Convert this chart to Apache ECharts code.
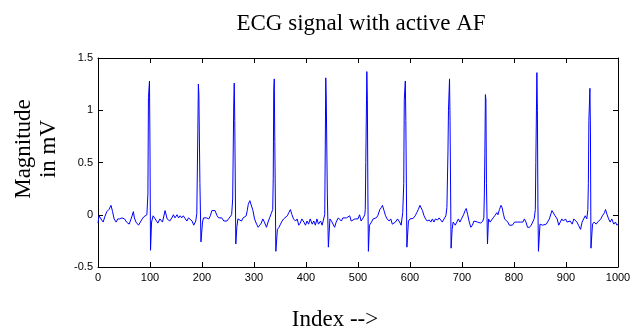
<!DOCTYPE html>
<html>
<head>
<meta charset="utf-8">
<title>ECG signal with active AF</title>
<script src="https://cdn.jsdelivr.net/npm/echarts@6/dist/echarts.min.js"></script>
<style>
  html, body { margin: 0; padding: 0; background: #fff; }
  #main { width: 640px; height: 333px; }
</style>
</head>
<body>
<div id="main"></div>
<script>
// sample index and magnitude (mV)
var ecgIndex = [
  0, 2, 5, 7, 10, 13, 17, 21, 25, 28, 31, 35, 38, 42, 46, 51, 55, 60, 65, 68,
  70, 73, 78, 81, 85, 88, 91, 94, 96, 97, 99, 100, 101, 103, 106, 110, 115, 119, 124, 129,
  133, 136, 138, 142, 145, 148, 152, 155, 158, 161, 164, 168, 171, 174, 177, 181, 184, 188, 190, 192,
  193, 194, 196, 198, 201, 203, 206, 209, 213, 216, 219, 222, 225, 229, 232, 235, 238, 242, 245, 248,
  251, 254, 257, 259, 261, 262, 263, 265, 267, 269, 272, 276, 279, 282, 285, 287, 289, 292, 295, 298,
  301, 305, 308, 311, 314, 317, 320, 324, 327, 330, 333, 336, 337, 338, 339, 340, 342, 345, 348, 351,
  354, 357, 360, 364, 367, 370, 373, 376, 380, 383, 386, 389, 392, 396, 399, 402, 405, 408, 412, 415,
  418, 421, 424, 428, 431, 434, 436, 437, 438, 439, 441, 443, 446, 449, 452, 455, 458, 462, 465, 468,
  471, 474, 478, 481, 484, 487, 490, 494, 497, 500, 503, 506, 510, 513, 514, 515, 517, 518, 519, 520,
  522, 526, 529, 532, 535, 538, 542, 545, 547, 550, 553, 556, 560, 563, 566, 569, 572, 576, 580, 583,
  586, 588, 589, 591, 592, 594, 597, 600, 603, 606, 610, 613, 616, 619, 621, 624, 627, 630, 633, 637,
  640, 643, 646, 649, 653, 656, 659, 662, 665, 669, 671, 673, 674, 676, 677, 679, 681, 683, 687, 690,
  693, 696, 699, 703, 706, 708, 711, 714, 717, 720, 723, 726, 730, 733, 736, 740, 742, 743, 744, 745,
  746, 747, 749, 751, 754, 757, 760, 763, 767, 769, 772, 775, 777, 780, 782, 785, 788, 791, 794, 797,
  801, 804, 807, 810, 813, 817, 820, 823, 826, 830, 833, 836, 839, 841, 842, 844, 845, 846, 847, 850,
  853, 855, 858, 862, 865, 868, 871, 873, 876, 879, 883, 886, 889, 892, 895, 899, 902, 905, 908, 912,
  915, 918, 921, 924, 928, 931, 934, 937, 940, 942, 943, 944, 946, 947, 948, 951, 954, 958, 961, 964,
  967, 970, 974, 976, 979, 982, 985, 988, 992, 995, 998, 1000
];
var ecgMv = [
  -0.08, -0.01, 0.0, -0.05, -0.07, -0.02, 0.03, 0.05, 0.09, 0.03, -0.04, -0.07, -0.04, -0.04, -0.03, -0.04, -0.07, -0.09, -0.02, 0.03,
  -0.03, -0.07, -0.1, -0.1, -0.04, -0.02, -0.03, 0.0, 0.2, 1.12, 1.28, 0.6, -0.34, -0.07, -0.01, -0.04, -0.08, -0.04, -0.07, 0.04,
  -0.04, -0.03, -0.06, -0.03, 0.0, -0.03, 0.0, -0.03, -0.01, -0.03, -0.01, -0.04, -0.06, -0.03, -0.04, -0.06, -0.1, -0.06, 0.01, 0.8,
  1.25, 1.15, 0.3, -0.26, -0.07, -0.03, -0.04, -0.03, -0.04, -0.01, 0.04, 0.05, 0.04, -0.01, -0.03, -0.04, -0.03, -0.06, -0.07, -0.06,
  -0.04, -0.03, 0.0, 0.15, 1.05, 1.26, 0.9, -0.28, -0.12, -0.04, -0.04, -0.06, -0.03, -0.04, -0.01, 0.04, 0.1, 0.135, 0.12, 0.04,
  -0.04, -0.09, -0.12, -0.1, -0.08, -0.04, -0.07, -0.12, -0.07, -0.03, 0.01, 0.05, 0.35, 1.2, 1.3, 0.7, -0.35, -0.14, -0.12, -0.09,
  -0.06, -0.04, -0.03, -0.01, 0.02, 0.05, 0.0, -0.04, -0.06, -0.04, -0.1, -0.08, -0.04, -0.07, -0.1, -0.06, -0.09, -0.04, -0.09, -0.06,
  -0.1, -0.04, -0.09, -0.06, -0.1, -0.04, 0.0, 0.6, 1.31, 1.1, 0.2, -0.31, -0.04, -0.06, -0.07, -0.12, -0.07, -0.03, -0.04, -0.06,
  -0.03, -0.04, -0.03, -0.04, -0.01, -0.06, -0.07, -0.04, -0.03, -0.04, 0.0, -0.06, -0.03, 0.0, 0.05, 0.5, 1.37, 1.1, 0.2, -0.35,
  -0.1, -0.07, -0.04, -0.04, -0.03, -0.01, 0.05, 0.07, 0.09, 0.04, -0.01, -0.04, -0.06, -0.04, -0.09, -0.1, -0.07, -0.04, -0.07, -0.1,
  0.02, 0.3, 1.1, 1.28, 0.9, -0.31, -0.06, -0.04, -0.05, -0.035, -0.01, 0.02, 0.05, 0.09, 0.09, 0.04, -0.01, -0.04, -0.06, -0.05,
  -0.07, -0.04, -0.07, -0.04, -0.05, -0.03, -0.035, -0.07, -0.07, -0.01, 0.07, 0.6, 1.0, 1.3, 0.9, -0.32, -0.14, -0.07, -0.1, -0.07,
  -0.04, -0.07, -0.04, 0.0, 0.04, 0.06, 0.0, -0.07, -0.12, -0.1, -0.06, -0.07, -0.07, -0.07, -0.08, -0.06, -0.03, 0.2, 0.6, 1.15,
  1.1, 0.3, -0.28, -0.04, -0.07, -0.06, -0.03, -0.01, 0.02, 0.0, 0.05, 0.09, 0.07, 0.0, -0.04, -0.04, -0.07, -0.1, -0.09, -0.1,
  -0.07, -0.06, -0.07, -0.06, -0.07, -0.07, -0.04, -0.07, -0.12, -0.12, -0.1, -0.07, -0.035, 0.05, 0.5, 1.36, 1.0, 0.1, -0.35, -0.09,
  -0.08, -0.1, -0.09, -0.09, -0.08, -0.04, -0.04, 0.04, 0.05, -0.01, -0.04, -0.1, -0.07, -0.04, -0.06, -0.04, -0.07, -0.08, -0.06, -0.09,
  -0.04, -0.03, -0.07, -0.1, -0.14, -0.07, -0.04, -0.01, -0.04, 0.05, 0.3, 0.9, 1.21, 0.8, -0.32, -0.09, -0.07, -0.09, -0.07, -0.07,
  -0.04, -0.01, 0.02, 0.05, 0.0, -0.04, -0.07, -0.04, -0.09, -0.07, -0.1, -0.09
];
var xTicks = [0, 1000, 100];    // min, max, step
var yTicks = [-0.5, 1.5, 0.5];

var chart = echarts.init(document.getElementById("main"));

var axisCommon = {
  type: "value",
  axisLine: { show: true, onZero: false, lineStyle: { color: "#000", width: 1 } },
  axisTick: { show: true, inside: true, length: 5, lineStyle: { color: "#000" } },
  splitLine: { show: false },
};
var labelStyle = { color: "#000", fontSize: 11, fontFamily: "Liberation Sans" };

var option = {
  animation: false,
  backgroundColor: "#fff",
  grid: { left: 98, right: 22, top: 58, bottom: 66 },
  xAxis: [
    Object.assign({}, axisCommon, {
      position: "bottom", min: xTicks[0], max: xTicks[1], interval: xTicks[2],
      axisLabel: Object.assign({ margin: 5, formatter: function (v) { return String(v); } }, labelStyle),
    }),
    Object.assign({}, axisCommon, {
      position: "top", min: xTicks[0], max: xTicks[1], interval: xTicks[2],
      axisLabel: { show: false },
    }),
  ],
  yAxis: [
    Object.assign({}, axisCommon, {
      position: "left", min: yTicks[0], max: yTicks[1], interval: yTicks[2],
      axisLabel: Object.assign({ margin: 5 }, labelStyle),
    }),
    Object.assign({}, axisCommon, {
      position: "right", min: yTicks[0], max: yTicks[1], interval: yTicks[2],
      axisLabel: { show: false },
    }),
  ],
  series: [
    {
      type: "line",
      xAxisIndex: 0,
      yAxisIndex: 0,
      showSymbol: false,
      lineStyle: { color: "#0000ff", width: 1 },
      data: ecgIndex.map(function (x, i) { return [x, ecgMv[i]]; }),
    },
  ],
  graphic: [
    {
      type: "text", x: 361, y: 24,
      style: {
        text: "ECG signal with active AF", fill: "#000",
        font: '23px "Liberation Serif"', align: "center", verticalAlign: "middle",
      },
    },
    {
      type: "text", x: 36, y: 149, rotation: Math.PI / 2,
      style: {
        text: "Magnitude\nin mV", fill: "#000", lineHeight: 25,
        font: '23px "Liberation Serif"', align: "center", verticalAlign: "middle",
      },
    },
    {
      type: "text", x: 335, y: 320,
      style: {
        text: "Index -->", fill: "#000",
        font: '23px "Liberation Serif"', align: "center", verticalAlign: "middle",
      },
    },
  ],
};

chart.setOption(option);
</script>
</body>
</html>
